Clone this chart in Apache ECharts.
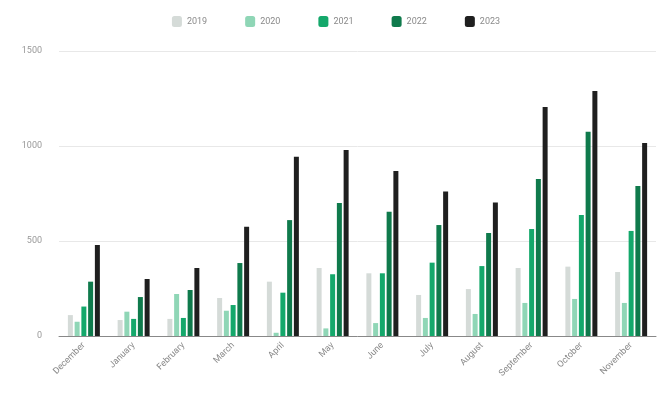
<!DOCTYPE html>
<html><head><meta charset="utf-8">
<script src="https://cdn.jsdelivr.net/npm/echarts@6/dist/echarts.min.js"></script>
<style>html,body{margin:0;padding:0;background:#fff}#c{width:672px;height:400px}</style>
</head><body><div id="c"></div>
<script>
const categories = ["December","January","February","March","April","May","June","July","August","September","October","November"];
const seriesNames = ["2019","2020","2021","2022","2023"];
const v2019 = [110, 84, 90, 200, 286, 358, 330, 216, 247, 358, 365, 337];
const v2020 = [75, 128, 221, 133, 17, 40, 68, 95, 116, 174, 195, 174];
const v2021 = [155, 90, 95, 163, 228, 325, 330, 386, 368, 563, 637, 553];
const v2022 = [286, 205, 242, 384, 610, 700, 654, 584, 542, 826, 1075, 790];
const v2023 = [479, 300, 358, 575, 944, 979, 868, 760, 702, 1205, 1289, 1016];
const yTicks = [0, 500, 1000, 1500];
const colors = ["#d5dbd8", "#8fd6b6", "#14a86b", "#0f7a4c", "#1f1f1f"];

const values = [v2019, v2020, v2021, v2022, v2023];
const chart = echarts.init(document.getElementById('c'), null, {renderer: 'canvas'});
chart.setOption({
  animation: false,
  color: colors,
  legend: {
    top: 11, left: 'center',
    itemWidth: 10, itemHeight: 11, itemGap: 38,
    icon: 'roundRect',
    textStyle: {color: '#8a8a8a', fontSize: 9, fontFamily: 'Roboto'},
    data: seriesNames
  },
  grid: {left: 59, right: 16, top: 51, bottom: 64},
  xAxis: {
    type: 'category', data: categories,
    axisTick: {show: false},
    axisLine: {lineStyle: {color: '#888', width: 1}},
    axisLabel: {rotate: 45, color: '#888', fontSize: 9, fontFamily: 'Roboto', margin: 8, interval: 0}
  },
  yAxis: {
    type: 'value', min: yTicks[0], max: yTicks[yTicks.length-1], interval: 500,
    axisLabel: {color: '#999', fontSize: 9, fontFamily: 'Roboto', margin: 17, formatter: v => String(v)},
    splitLine: {lineStyle: {color: '#e8e8e8'}},
    axisLine: {show: false}, axisTick: {show: false}
  },
  series: seriesNames.map((n, i) => ({
    name: n, type: 'bar', data: values[i],
    barWidth: 5, barGap: '35%'
  }))
});
</script></body></html>
